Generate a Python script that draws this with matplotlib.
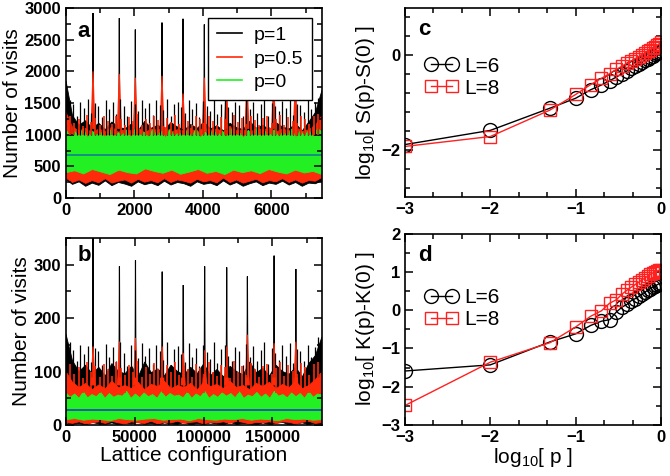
import numpy as np
import matplotlib
matplotlib.use("Agg")
import matplotlib.pyplot as plt
from matplotlib.lines import Line2D
from matplotlib.ticker import MultipleLocator

plt.rcParams['font.family'] = ['Liberation Sans', 'DejaVu Sans']
plt.rcParams['mathtext.fontset'] = 'custom'
plt.rcParams['mathtext.rm'] = 'Liberation Sans'

# ---------------- panel a : visits histogram, L=6 ----------------
a_xmax = 7480
a_blk_hi = [1850, 1300, 1150, 1220, 1100, 1180, 1080, 1200, 1120, 1090,
            1170, 1060, 1210, 1100, 1150, 1080, 1190, 1120, 1070, 1160,
            1100, 1200, 1090, 1140, 1060, 1180, 1110, 1080, 1210, 1100,
            1150, 1070, 1190, 1120, 1090, 1170, 1060, 1200, 1350, 1700]
a_blk_ndl = [1550, 1480, 1300, 1520, 1420, 1560, 1350, 1500, 1460, 1280,
             1540, 1400, 1510, 1330, 1560, 1450, 1290, 1530, 1480, 1370,
             1550, 1420, 1500, 1310, 1540, 1470, 1390, 1560, 1300, 1490,
             1520, 1440, 1350, 1550, 1410, 1500, 1280, 1530, 1460, 1380,
             1560, 1320, 1490, 1540, 1430, 1360, 1510, 1470, 1300, 1550,
             1400, 1520, 1340, 1480, 1560, 1290, 1500, 1450, 1380, 1530,
             1420, 1550, 1310, 1490, 1470, 1360, 1540, 1400, 1520, 1580]
a_blk_lo = [290, 215, 255, 185, 235, 200, 270, 195, 245, 220,
            185, 255, 210, 235, 195, 265, 205, 245, 225, 185,
            255, 215, 235, 195, 270, 205, 245, 185, 225, 255,
            195, 235, 215, 265, 205, 245, 185, 235, 225, 275]
a_red_hi = [1350, 1120, 1060, 1100, 1030, 1090, 1050, 1120, 1040, 1080,
            1060, 1110, 1030, 1090, 1070, 1120, 1040, 1080, 1060, 1100,
            1030, 1110, 1070, 1090, 1040, 1120, 1060, 1080, 1030, 1100,
            1070, 1110, 1040, 1090, 1060, 1120, 1050, 1080, 1150, 1300]
a_red_ndl = [1300, 1180, 1250, 1140, 1310, 1200, 1260, 1150, 1290, 1220,
             1170, 1300, 1240, 1160, 1280, 1210, 1320, 1150, 1250, 1190,
             1300, 1230, 1140, 1270, 1200, 1310, 1170, 1260, 1220, 1150,
             1290, 1240, 1180, 1300, 1210, 1160, 1280, 1250, 1140, 1310,
             1200, 1270, 1170, 1300, 1230, 1150, 1260, 1290, 1190, 1240,
             1310, 1160, 1280, 1220, 1180, 1300, 1250, 1170, 1290, 1330]
a_red_lo = [315, 245, 285, 230, 275, 240, 305, 235, 265, 285,
            235, 295, 250, 275, 240, 305, 245, 285, 265, 235,
            295, 255, 275, 240, 315, 245, 285, 235, 265, 295,
            240, 275, 255, 305, 245, 285, 235, 275, 265, 325]
a_grn_hi = [1080, 960, 1050, 980, 1100, 950, 1060, 990, 1040, 960,
            1090, 970, 1030, 990, 1070, 950, 1100, 980, 1040, 960,
            1080, 990, 1050, 950, 1090, 970, 1030, 980, 1070, 960,
            1100, 950, 1040, 990, 1080, 970, 1060, 960, 1090, 980,
            1030, 950, 1070, 990, 1100, 960, 1050, 980, 1080, 970,
            1040, 990, 1090, 950, 1060, 980, 1070, 960, 1100, 1040]
a_grn_lo = [400, 430, 380, 450, 410, 370, 440, 400, 380, 460,
            420, 390, 440, 375, 410, 450, 390, 420, 370, 440,
            400, 430, 385, 450, 410, 380, 440, 395, 420, 370]
a_mean = 676
a_spk_x = [789, 1558, 2026, 2805, 3419, 4042, 4685, 5289, 6068, 6701]
a_spk_blk = [2920, 2840, 2660, 2770, 2830, 2740, 2800, 2750, 2800, 2700]
a_spk_red = [2000, 1960, 1900, 1930, 1650, 1900, 1850, 1850, 1850, 1850]

# ---------------- panel b : visits histogram, L=8 ----------------
b_xmax = 186000
b_blk_hi = [170, 120, 100, 112, 95, 108, 92, 115, 100, 96,
            110, 90, 118, 98, 105, 92, 112, 100, 94, 108,
            96, 115, 92, 104, 90, 110, 100, 94, 118, 98,
            106, 92, 112, 100, 95, 108, 90, 115, 130, 165]
b_blk_ndl = [155, 140, 120, 150, 132, 148, 118, 145, 138, 112,
             152, 128, 146, 120, 155, 135, 110, 150, 140, 125,
             154, 130, 144, 115, 150, 138, 122, 156, 112, 142,
             148, 132, 118, 153, 128, 145, 110, 150, 136, 124,
             155, 116, 142, 150, 130, 120, 146, 138, 112, 152,
             128, 148, 120, 140, 156, 114, 144, 134, 122, 150,
             130, 154, 116, 142, 138, 120, 150, 128, 146, 165]
b_blk_lo = [4, 1, 3, 0, 5, 2, 1, 4, 0, 3,
            2, 5, 1, 3, 0, 4, 2, 1, 5, 0,
            3, 1, 4, 2, 0, 5, 1, 3, 2, 0,
            4, 1, 3, 5, 0, 2, 4, 1, 3, 2]
b_red_hi = [100, 80, 70, 78, 66, 75, 68, 82, 70, 74,
            68, 80, 66, 76, 72, 82, 68, 74, 70, 78,
            66, 80, 72, 76, 68, 82, 70, 74, 66, 78,
            72, 80, 68, 76, 70, 82, 68, 74, 85, 100]
b_red_ndl = [115, 95, 108, 88, 118, 100, 110, 90, 115, 104,
             92, 118, 106, 94, 112, 100, 120, 90, 108, 96,
             116, 104, 88, 112, 100, 118, 94, 110, 104, 90,
             114, 106, 96, 118, 100, 92, 112, 108, 88, 120,
             100, 110, 94, 116, 104, 90, 110, 114, 96, 106,
             118, 92, 112, 102, 96, 116, 108, 94, 114, 118]
b_red_lo = [5, 3, 6, 2, 4, 6, 3, 7, 4, 2,
            6, 4, 3, 7, 2, 5, 4, 7, 3, 5,
            6, 2, 5, 4, 6, 3, 7, 5, 2, 5,
            4, 6, 3, 6, 5, 2, 5, 7, 3, 5]
b_grn_hi = [60, 52, 58, 50, 62, 51, 57, 53, 61, 50,
            59, 52, 56, 54, 63, 50, 58, 51, 60, 53,
            57, 50, 62, 52, 59, 54, 56, 51, 61, 50,
            58, 53, 63, 50, 57, 52, 60, 54, 59, 51,
            62, 50, 56, 53, 61, 52, 58, 50, 63, 54,
            57, 51, 60, 53, 59, 50, 62, 52, 58, 56]
b_grn_lo = [10, 12, 9, 11, 10, 8, 12, 10, 9, 11,
            12, 9, 10, 11, 8, 12, 10, 9, 11, 10,
            12, 9, 11, 10, 8, 12, 10, 11, 9, 10]
b_mean = 28
b_spk_x = [19660, 38835, 50485, 69900, 85190, 100730, 116750, 131800, 151200, 167000]
b_spk_blk = [360, 297, 308, 287, 262, 297, 295, 278, 317, 292]
b_spk_red = [147, 156, 163, 147, 135, 140, 147, 169, 153, 156]

# ---------------- panels c, d : moments vs log10 p ----------------
p_vals = [0.001, 0.01, 0.05, 0.1, 0.15, 0.2, 0.25, 0.3, 0.35, 0.4, 0.45,
          0.5, 0.55, 0.6, 0.65, 0.7, 0.75, 0.8, 0.85, 0.9, 0.95, 1.0]
c_L6 = [-1.89, -1.59, -1.12, -0.91, -0.73, -0.63, -0.54, -0.46, -0.39, -0.33, -0.28,
        -0.23, -0.19, -0.15, -0.11, -0.07, -0.04, -0.01, 0.02, 0.05, 0.07, 0.10]
c_L8 = [-1.93, -1.72, -1.16, -0.83, -0.62, -0.49, -0.39, -0.30, -0.23, -0.17, -0.12,
        -0.07, -0.03, 0.01, 0.05, 0.09, 0.12, 0.15, 0.18, 0.21, 0.24, 0.27]
d_L6 = [-1.59, -1.43, -0.83, -0.62, -0.40, -0.29, -0.25, -0.05, 0.08, 0.15, 0.25,
        0.30, 0.36, 0.42, 0.47, 0.52, 0.56, 0.60, 0.63, 0.66, 0.69, 0.71]
d_L8 = [-2.49, -1.36, -0.85, -0.44, -0.16, -0.02, 0.18, 0.27, 0.42, 0.52, 0.60,
        0.67, 0.73, 0.79, 0.84, 0.89, 0.93, 0.97, 1.00, 1.02, 1.04, 1.06]

BLK = 'black'
RED = '#ff2a0a'
GRN = '#22f022'
TICKFS = 12
LABFS = 15


def band(ax, xmax, hi, lo, color):
    xh = np.linspace(0, xmax, len(hi))
    xl = np.linspace(0, xmax, len(lo))
    ax.fill(np.concatenate([xh, xl[::-1]]), np.concatenate([hi, lo[::-1]]),
            color=color, lw=0.6, ec=color)


def needles(ax, xmax, tops, base, color, lw=0.9):
    xs = np.linspace(0, xmax, len(tops) + 2)[1:-1]
    ax.vlines(xs, base, tops, color=color, lw=lw)


def spikes(ax, xs, tops, base, width, color):
    for x, t in zip(xs, tops):
        ax.fill([x - width, x, x + width], [base, t, base], color=color, lw=0.8, ec=color)


def style(ax):
    ax.tick_params(which='both', direction='in', top=True, right=True,
                   labelsize=TICKFS, width=1.1)
    ax.tick_params(which='major', length=6)
    ax.tick_params(which='minor', length=3.5)
    for lab in ax.get_xticklabels() + ax.get_yticklabels():
        lab.set_fontweight('bold')
    for s in ax.spines.values():
        s.set_linewidth(1.2)


fig = plt.figure(figsize=(6.7, 4.76), dpi=100)
W, H = 670.0, 476.0


def add_ax(l, t, r, b):
    return fig.add_axes([l / W, 1 - b / H, (r - l) / W, (b - t) / H])


# panel a
ax = add_ax(66, 8, 322, 198)
needles(ax, a_xmax, a_blk_ndl, 1000, BLK)
band(ax, a_xmax, a_blk_hi, a_blk_lo, BLK)
spikes(ax, a_spk_x, a_spk_blk, 1100, 12, BLK)
needles(ax, a_xmax, a_red_ndl, 1000, RED, lw=1.2)
band(ax, a_xmax, a_red_hi, a_red_lo, RED)
spikes(ax, a_spk_x, a_spk_red, 1100, 55, RED)
band(ax, a_xmax, a_grn_hi, a_grn_lo, GRN)
ax.axhline(a_mean, color='#128a8a', lw=1.3)
ax.set_xlim(0, a_xmax)
ax.set_ylim(0, 3000)
ax.xaxis.set_major_locator(MultipleLocator(2000))
ax.xaxis.set_minor_locator(MultipleLocator(1000))
ax.yaxis.set_major_locator(MultipleLocator(500))
ax.yaxis.set_minor_locator(MultipleLocator(250))
ax.set_ylabel('Number of visits', fontsize=LABFS, labelpad=2)
style(ax)
ax.text(0.045, 0.93, 'a', transform=ax.transAxes, fontsize=16, fontweight='bold', va='top')
hs = [Line2D([], [], color=c, lw=1.2) for c in (BLK, RED, GRN)]
leg = ax.legend(hs, ['p=1', 'p=0.5', 'p=0'], loc='upper right', fontsize=14,
                fancybox=False, edgecolor='black', framealpha=1, handlelength=1.3,
                handletextpad=0.6, labelspacing=0.3, borderaxespad=0.5,
                borderpad=0.45)
leg.get_frame().set_linewidth(1.0)

# panel b
ax = add_ax(66, 238, 322, 425)
needles(ax, b_xmax, b_blk_ndl, 90, BLK)
band(ax, b_xmax, b_blk_hi, b_blk_lo, BLK)
spikes(ax, b_spk_x, b_spk_blk, 100, 300, BLK)
needles(ax, b_xmax, b_red_ndl, 60, RED, lw=1.2)
band(ax, b_xmax, b_red_hi, b_red_lo, RED)
spikes(ax, b_spk_x, b_spk_red, 75, 1400, RED)
band(ax, b_xmax, b_grn_hi, b_grn_lo, GRN)
ax.axhline(b_mean, color='#1a50b0', lw=1.3)
ax.set_xlim(0, b_xmax)
ax.set_ylim(0, 350)
ax.xaxis.set_major_locator(MultipleLocator(50000))
ax.xaxis.set_minor_locator(MultipleLocator(25000))
ax.yaxis.set_major_locator(MultipleLocator(100))
ax.yaxis.set_minor_locator(MultipleLocator(50))
ax.set_ylabel('Number of visits', fontsize=LABFS, labelpad=2)
ax.set_xlabel('Lattice configuration', fontsize=LABFS, labelpad=1)
style(ax)
ax.text(0.045, 0.96, 'b', transform=ax.transAxes, fontsize=16, fontweight='bold', va='top')

lp = np.log10(p_vals)


def moment_panel(ax, y6, y8, ylim, ymaj, ymin, ylabel, letter, legy):
    ax.plot(lp, y6, color=BLK, lw=1, marker='o', ms=10, mfc='none', mec=BLK, mew=1.0,
            label='L=6')
    ax.plot(lp, y8, color='#ff2020', lw=1, marker='s', ms=9, mfc='none', mec='#ff2020',
            mew=1.0, label='L=8')
    ax.set_xlim(-3, 0)
    ax.set_ylim(*ylim)
    ax.xaxis.set_major_locator(MultipleLocator(1))
    ax.xaxis.set_minor_locator(MultipleLocator(1 / 3))
    ax.yaxis.set_major_locator(MultipleLocator(ymaj))
    ax.yaxis.set_minor_locator(MultipleLocator(ymin))
    ax.set_ylabel(ylabel, fontsize=LABFS, labelpad=3)
    style(ax)
    ax.text(0.05, 0.94, letter, transform=ax.transAxes, fontsize=16, fontweight='bold',
            va='top')
    ax.legend(loc='upper left', bbox_to_anchor=(0.02, legy), frameon=False, fontsize=15,
              numpoints=2, handlelength=1.6, handletextpad=0.3, labelspacing=0.15,
              borderpad=0.2)


ax = add_ax(405, 8, 661, 197)
moment_panel(ax, c_L6, c_L8, (-3, 1), 2, 0.4, r'log$_{10}$[ S(p)-S(0) ]', 'c', 0.82)

ax = add_ax(405, 233.5, 661, 425)
moment_panel(ax, d_L6, d_L8, (-3, 2), 1, 0.5, r'log$_{10}$[ K(p)-K(0) ]', 'd', 0.79)
ax.set_xlabel(r'log$_{10}$[ p ]', fontsize=LABFS, labelpad=1)

fig.savefig('out.png', dpi=100)
